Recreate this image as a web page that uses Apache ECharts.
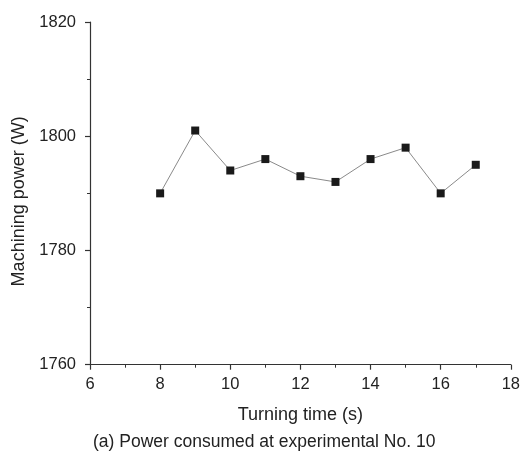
<!DOCTYPE html>
<html>
<head>
<meta charset="utf-8">
<script src="https://cdn.jsdelivr.net/npm/echarts@6/dist/echarts.min.js"></script>
<style>
  html, body { margin: 0; padding: 0; background: #fff; }
  #chart { width: 523px; height: 455px; }
</style>
</head>
<body>
<div id="chart"></div>
<script>
// Turning time (s)
const turningTime = [8, 9, 10, 11, 12, 13, 14, 15, 16, 17];
// Machining power (W)
const machiningPower = [1790, 1801, 1794, 1796, 1793, 1792, 1796, 1798, 1790, 1795];

const xTicks = { min: 6, max: 18, interval: 2 };
const yTicks = { min: 1760, max: 1820, interval: 20 };

const font = 'Arial, "Liberation Sans", sans-serif';
const ink = '#222';

const chart = echarts.init(document.getElementById('chart'), null, { renderer: 'canvas' });

const axisCommon = {
  axisLine: { show: true, lineStyle: { color: '#333', width: 1.2 } },
  axisTick: { show: true, inside: false, length: 5, lineStyle: { color: '#333', width: 1.2 } },
  minorTick: { show: true, splitNumber: 2, length: 3, lineStyle: { color: '#333', width: 1 } },
  splitLine: { show: false },
  nameTextStyle: { fontFamily: font, fontSize: 18, color: ink },
};

chart.setOption({
  animation: false,
  backgroundColor: '#fff',
  graphic: [{
    type: 'text',
    left: 93,
    top: 433,
    style: {
      text: '(a) Power consumed at experimental No. 10',
      fontFamily: font,
      fontSize: 17.5,
      fill: ink,
    },
  }],
  grid: { left: 90, right: 11.7, top: 22, bottom: 90.3 },
  xAxis: Object.assign({}, axisCommon, {
    type: 'value',
    min: xTicks.min,
    max: xTicks.max,
    interval: xTicks.interval,
    name: 'Turning time (s)',
    nameLocation: 'middle',
    nameGap: 41,
    axisLabel: { fontFamily: font, fontSize: 16.5, color: ink, margin: 11 },
  }),
  yAxis: Object.assign({}, axisCommon, {
    type: 'value',
    min: yTicks.min,
    max: yTicks.max,
    interval: yTicks.interval,
    name: 'Machining power (W)',
    nameLocation: 'middle',
    nameGap: 61,
    nameTextStyle: { fontFamily: font, fontSize: 18, color: ink, padding: [0, 16, 0, 0] },
    axisLabel: { fontFamily: font, fontSize: 16.5, color: ink, margin: 14, formatter: v => String(v) },
  }),
  series: [{
    type: 'line',
    data: turningTime.map((t, i) => [t, machiningPower[i]]),
    symbol: 'rect',
    symbolSize: 8,
    itemStyle: { color: '#1a1a1a' },
    lineStyle: { color: '#8a8a8a', width: 1 },
  }],
});
</script>
</body>
</html>
